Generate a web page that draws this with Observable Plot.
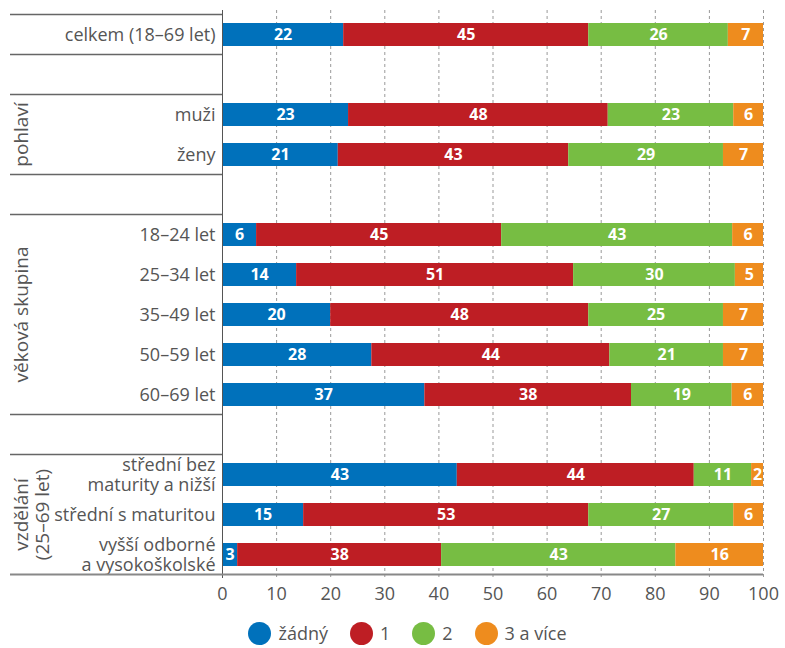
<!DOCTYPE html>
<html>
<head>
<meta charset="utf-8">
<script src="https://cdn.jsdelivr.net/npm/d3@7"></script>
<script src="https://cdn.jsdelivr.net/npm/@observablehq/plot@0.6"></script>
<style>
  body { margin: 0; background: #fff; font-family: "Open Sans", sans-serif; }
  #legend { display: flex; justify-content: center; align-items: center; height: 46px; padding-left: 30px; font-size: 18px; color: #555; }
  #legend .item { display: flex; align-items: center; margin: 0 11px; }
  #legend .dot { width: 23px; height: 23px; border-radius: 50%; margin-right: 7px; }
</style>
</head>
<body>
<div id="chart"></div>
<div id="legend"></div>
<script>
// Row keys (blank rows separate the groups)
const rowKeys = ["celkem", "gap1", "muzi", "zeny", "gap2", "a18", "a25", "a35", "a50", "a60", "gap3", "e1", "e2", "e3"];
const rowLabels = ["celkem (18–69 let)", "", "muži", "ženy", "", "18–24 let", "25–34 let", "35–49 let", "50–59 let", "60–69 let", "", "střední bez\nmaturity a nižší", "střední s maturitou", "vyšší odborné\na vysokoškolské"];
const categories = ["celkem", "muzi", "zeny", "a18", "a25", "a35", "a50", "a60", "e1", "e2", "e3"];
const seriesNames = ["žádný", "1", "2", "3 a více"];
const colors = ["#0071bb", "#be1e24", "#77bd43", "#ee8c1e"];
// values (%)
const zadny   = [22.4, 23.3, 21.4,  6.3, 13.7, 20.0, 27.6, 37.4, 43.4, 15.0,  2.8];
const jeden   = [45.3, 48.0, 42.6, 45.3, 51.2, 47.7, 44.0, 38.2, 43.8, 52.7, 37.7];
const dva     = [25.8, 23.2, 28.6, 42.7, 29.9, 24.9, 21.0, 18.6, 10.6, 26.8, 43.3];
const triVice = [ 6.5,  5.5,  7.4,  5.7,  5.2,  7.4,  7.4,  5.8,  2.2,  5.5, 16.2];
const xTicks = [0, 10, 20, 30, 40, 50, 60, 70, 80, 90, 100];
const groups = [
  {lines: ["pohlaví"], from: "muzi", to: "zeny"},
  {lines: ["věková skupina"], from: "a18", to: "a60"},
  {lines: ["vzdělání", "(25–69 let)"], from: "e1", to: "e3"}
];
const separatorsAbove = ["celkem", "gap1", "muzi", "gap2", "a18", "gap3", "e1"];

const seriesArrays = [zadny, jeden, dva, triVice];
const data = [];
categories.forEach((c, i) => {
  seriesArrays.forEach((arr, s) => data.push({cat: c, series: seriesNames[s], value: arr[i]}));
});
const labelMap = new Map(rowKeys.map((k, i) => [k, rowLabels[i]]));

const plot = Plot.plot({
  width: 785,
  height: 610,
  marginLeft: 222,
  marginRight: 22,
  marginTop: 10,
  marginBottom: 32,
  style: {fontFamily: "'Open Sans', sans-serif", fontSize: "18px", color: "#555", background: "#fff"},
  x: {domain: [0, 100]},
  y: {domain: rowKeys, paddingInner: 0.43, paddingOuter: 0.215},
  color: {domain: seriesNames, range: colors},
  marks: [
    Plot.gridX(xTicks.slice(1), {stroke: "#999", strokeOpacity: 1, strokeDasharray: "3,3"}),
    Plot.barX(data, {x: "value", y: "cat", fill: "series", order: seriesNames}),
    Plot.text(data, Plot.stackX({x: "value", y: "cat", z: "series", order: seriesNames,
      text: d => String(Math.round(d.value)), fill: "white", fontWeight: 700, fontSize: 16})),
    Plot.ruleX([0], {stroke: "#555"}),
    Plot.axisX({ticks: xTicks, tickSize: 0, tickPadding: 9, fontSize: 18, label: null}),
    Plot.axisY({tickSize: 0, tickPadding: 7, tickFormat: d => labelMap.get(d), lineHeight: 1.1, fontSize: 18, label: null})
  ]
});

const svg = d3.select(plot);
const yS = plot.scale("y");
const xS = plot.scale("x");
const bandGap = (yS.step - yS.bandwidth) / 2;
const rowTop = k => yS.apply(k) - bandGap;
const rowBottom = k => yS.apply(k) + yS.bandwidth + bandGap;
const x0 = xS.apply(0);
const g = svg.append("g");
separatorsAbove.forEach(k => {
  g.append("line").attr("x1", 10).attr("x2", x0).attr("y1", rowTop(k)).attr("y2", rowTop(k))
    .attr("stroke", "#666").attr("stroke-width", 1.5);
});
g.append("line").attr("x1", 10).attr("x2", xS.apply(100)).attr("y1", rowBottom("e3")).attr("y2", rowBottom("e3"))
  .attr("stroke", "#888").attr("stroke-width", 2);
groups.forEach(gr => {
  const cy = (rowTop(gr.from) + rowBottom(gr.to)) / 2;
  const t = g.append("text").attr("transform", `translate(${gr.lines.length > 1 ? 32 : 21},${cy}) rotate(-90)`)
    .attr("text-anchor", "middle").attr("fill", "#555").attr("font-size", 19);
  gr.lines.forEach((ln, i) => {
    t.append("tspan").attr("x", 0)
      .attr("dy", i === 0 ? (0.35 - (gr.lines.length - 1) * 0.55) + "em" : "1.1em").text(ln);
  });
});

document.getElementById("chart").appendChild(plot);

const legend = d3.select("#legend");
seriesNames.forEach((s, i) => {
  const it = legend.append("div").attr("class", "item");
  it.append("div").attr("class", "dot").style("background", colors[i]);
  it.append("span").text(s);
});
</script>
</body>
</html>
